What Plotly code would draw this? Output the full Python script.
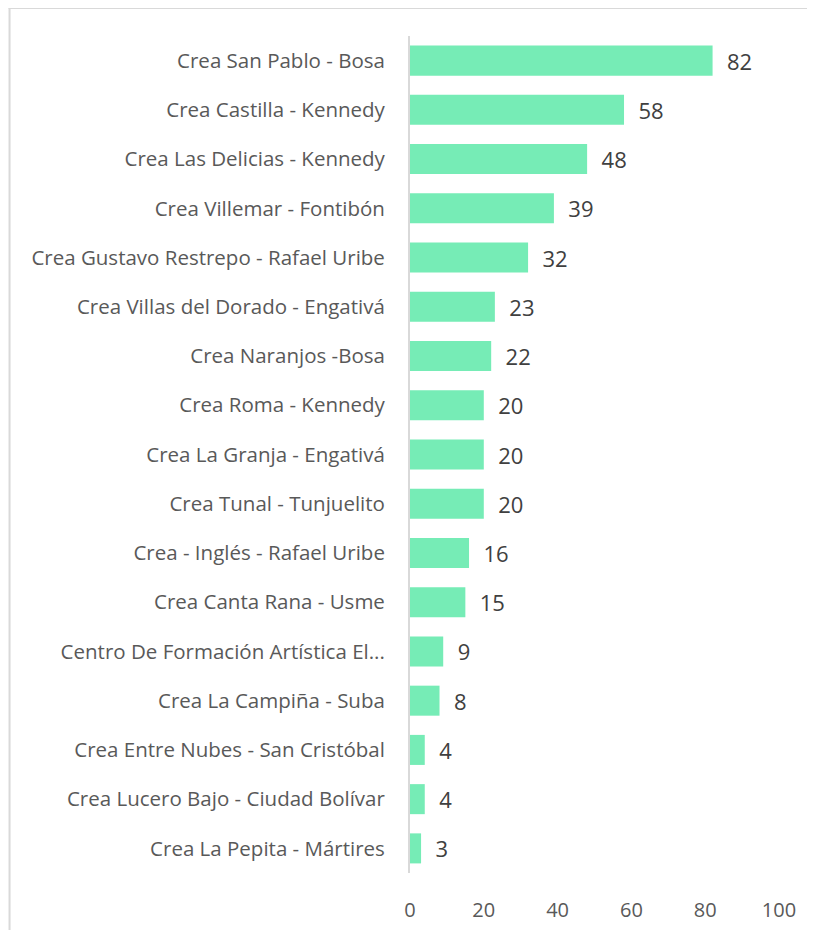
import plotly.graph_objects as go

categories = [
    "Crea San Pablo - Bosa",
    "Crea Castilla - Kennedy",
    "Crea Las Delicias - Kennedy",
    "Crea Villemar - Fontibón",
    "Crea Gustavo Restrepo - Rafael Uribe",
    "Crea Villas del Dorado - Engativá",
    "Crea Naranjos -Bosa",
    "Crea Roma - Kennedy",
    "Crea La Granja - Engativá",
    "Crea Tunal - Tunjuelito",
    "Crea - Inglés - Rafael Uribe",
    "Crea Canta Rana - Usme",
    "Centro De Formación Artística El...",
    "Crea La Campiña - Suba",
    "Crea Entre Nubes - San Cristóbal",
    "Crea Lucero Bajo - Ciudad Bolívar",
    "Crea La Pepita - Mártires",
]
values = [82, 58, 48, 39, 32, 23, 22, 20, 20, 20, 16, 15, 9, 8, 4, 4, 3]
x_ticks = [0, 20, 40, 60, 80, 100]

# page body has an 8px margin, so the figure is sized to fit the window
W, H = 807, 922
ml, mr, mt, mb = 402, 35.5, 28, 57
pw = W - ml - mr
ph = H - mt - mb

def px_x(p):
    return (p - ml) / pw

def px_y(p):
    return (H - mb - p) / ph

fig = go.Figure(go.Bar(
    x=values, y=categories, orientation="h",
    marker=dict(color="#76ECB6", line=dict(width=0)),
    text=values, texttemplate="  %{x}", textposition="outside",
    textfont=dict(family="Open Sans", size=22, color="#404040"),
    cliponaxis=False,
))

fig.update_layout(
    width=W, height=H,
    margin=dict(l=ml, r=mr, t=mt, b=mb),
    paper_bgcolor="white", plot_bgcolor="white",
    bargap=0.39,
    showlegend=False,
    font=dict(family="Open Sans", color="#595959"),
    xaxis=dict(range=[0, 100], tickvals=x_ticks, showgrid=False, zeroline=False,
               showline=False, tickfont=dict(size=20, color="#595959"),
               ticklabelstandoff=23, automargin=False, fixedrange=True),
    yaxis=dict(categoryorder="array", categoryarray=categories, autorange="reversed",
               showgrid=False, zeroline=False, showline=True, linecolor="#d9d9d9",
               linewidth=2, tickfont=dict(size=20.5, color="#595959"),
               ticklabelstandoff=19, automargin=False, fixedrange=True),
    shapes=[
        dict(type="line", xref="paper", yref="paper", x0=px_x(1), x1=px_x(1),
             y0=px_y(0), y1=px_y(H + 5), line=dict(color="#d9d9d9", width=2)),
        dict(type="line", xref="paper", yref="paper", x0=px_x(0), x1=px_x(W + 5),
             y0=px_y(0), y1=px_y(0), line=dict(color="#d9d9d9", width=2)),
    ],
)

fig.write_html("out.html")
